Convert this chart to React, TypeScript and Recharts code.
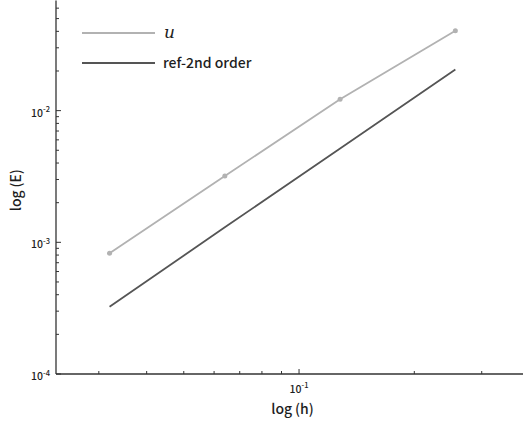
import { LineChart, Line, XAxis, YAxis, Legend } from 'recharts';

// mesh size h and errors
const hValues = [0.032, 0.064, 0.128, 0.256];
const uError = [8.25e-4, 3.19e-3, 1.22e-2, 4.04e-2];
const refSecondOrder = [3.24e-4, 1.3e-3, 5.15e-3, 2.05e-2];

const seriesNames = ['u', 'ref-2nd order'];

const xMajorTicks = [0.1];
const xMinorTicks = [0.03, 0.04, 0.05, 0.06, 0.07, 0.08, 0.09, 0.2, 0.3];
const xTickExponents = ['-1'];

const yMajorTicks = [1e-4, 1e-3, 1e-2];
const yMinorTicks = [
  2e-4, 3e-4, 4e-4, 5e-4, 6e-4, 7e-4, 8e-4, 9e-4,
  2e-3, 3e-3, 4e-3, 5e-3, 6e-3, 7e-3, 8e-3, 9e-3,
  2e-2, 3e-2, 4e-2, 5e-2, 6e-2,
];
const yTickExponents = ['-4', '-3', '-2'];

const X_DOMAIN = [0.02319, 0.3845];
const Y_DOMAIN = [1e-4, 0.0686];

const AXIS = '#333333';
const TEXT = '#1e1e1e';
const FONT = '"Noto Sans CJK SC", "Noto Sans", sans-serif';

const data = hValues.map((h, i) => ({ h, u: uError[i], ref: refSecondOrder[i] }));

const XTick = (props: any) => {
  const { x, y, payload, top } = props;
  const idx = xMajorTicks.indexOf(payload.value);
  const len = idx >= 0 ? 5 : 3;
  if (top) {
    return <line x1={x} y1={y} x2={x} y2={y + len} stroke={AXIS} strokeWidth={1} />;
  }
  return (
    <g>
      <line x1={x} y1={y} x2={x} y2={y - len} stroke={AXIS} strokeWidth={1} />
      {idx >= 0 && (
        <text x={x} y={y + 18.7} textAnchor="middle" fontSize={10.5} fontWeight={500} fill={TEXT} fontFamily={FONT}>
          10<tspan dy={-4.5} fontSize={7.5}>{xTickExponents[idx]}</tspan>
        </text>
      )}
    </g>
  );
};

const YTick = (props: any) => {
  const { x, y, payload } = props;
  const idx = yMajorTicks.indexOf(payload.value);
  const len = idx >= 0 ? 5 : 3;
  return (
    <g>
      <line x1={x} y1={y} x2={x + len} y2={y} stroke={AXIS} strokeWidth={1} />
      {idx >= 0 && (
        <text x={x - 6} y={y + 6} textAnchor="end" fontSize={10.5} fontWeight={500} fill={TEXT} fontFamily={FONT}>
          10<tspan dy={-4.5} fontSize={7.5}>{yTickExponents[idx]}</tspan>
        </text>
      )}
    </g>
  );
};

const renderLegend = (props: any) => {
  const items = [...props.payload].sort(
    (a: any, b: any) => seriesNames.indexOf(a.value) - seriesNames.indexOf(b.value),
  );
  return (
    <svg width={200} height={56}>
      {items.map((entry: any, i: number) => (
        <g key={entry.value}>
          <line x1={0} y1={13 + i * 30} x2={73} y2={13 + i * 30} stroke={entry.color} strokeWidth={1.8} />
          {entry.value === 'u' ? (
            <text x={82} y={13 + i * 30} dy="0.3em" fontSize={17} fontStyle="italic" fontFamily='"DejaVu Serif", serif' fill={TEXT}>
              u
            </text>
          ) : (
            <text x={81} y={13 + i * 30} dy="0.36em" fontSize={14} fontWeight={500} fontFamily={FONT} fill={TEXT}>
              {entry.value}
            </text>
          )}
        </g>
      ))}
    </svg>
  );
};

export default function App() {
  return (
    <div style={{ position: 'absolute', left: 0, top: 0, background: '#fff' }}>
      <LineChart width={523} height={423} data={data} margin={{ top: 0.5, right: 0, bottom: 0, left: 0 }}>
        <XAxis
          xAxisId="x"
          dataKey="h"
          type="number"
          scale="log"
          domain={X_DOMAIN}
          allowDataOverflow
          ticks={[...xMinorTicks, ...xMajorTicks]}
          interval={0}
          height={49}
          tickSize={0}
          tickMargin={0}
          tickLine={false}
          tick={<XTick />}
          axisLine={{ stroke: AXIS, strokeWidth: 1.3 }}
          label={({ viewBox }: any) => (
            <text
              x={viewBox.x + viewBox.width / 2 + 3}
              y={viewBox.y + 34}
              textAnchor="middle"
              dominantBaseline="central"
              fontSize={14}
              fontWeight={500}
              fill={TEXT}
              fontFamily={FONT}
            >
              log{'\u2009'}(h)
            </text>
          )}
        />
        <XAxis
          xAxisId="top"
          dataKey="h"
          orientation="top"
          type="number"
          scale="log"
          domain={X_DOMAIN}
          allowDataOverflow
          ticks={[...xMinorTicks, ...xMajorTicks]}
          interval={0}
          height={0}
          tickSize={0}
          tickMargin={0}
          tickLine={false}
          tick={<XTick top />}
          axisLine={{ stroke: AXIS, strokeWidth: 1 }}
        />
        <YAxis
          type="number"
          scale="log"
          domain={Y_DOMAIN}
          allowDataOverflow
          ticks={[...yMinorTicks, ...yMajorTicks]}
          interval={0}
          width={56}
          tickSize={0}
          tickMargin={0}
          tickLine={false}
          tick={<YTick />}
          axisLine={{ stroke: AXIS, strokeWidth: 1.3 }}
          label={({ viewBox }: any) => (
            <text
              x={viewBox.x + 15}
              y={viewBox.y + viewBox.height / 2 + 3}
              textAnchor="middle"
              dominantBaseline="central"
              transform={`rotate(-90, ${viewBox.x + 15}, ${viewBox.y + viewBox.height / 2 + 3})`}
              fontSize={14}
              fontWeight={500}
              fill={TEXT}
              fontFamily={FONT}
            >
              log{'\u2009'}(E)
            </text>
          )}
        />
        <Legend
          layout="horizontal"
          verticalAlign="middle"
          align="center"
          content={renderLegend}
          wrapperStyle={{ position: 'absolute', left: 82, top: 20, width: 200, height: 56 }}
        />
        <Line
          xAxisId="x"
          dataKey="u"
          name="u"
          stroke="#b2b2b2"
          strokeWidth={1.8}
          dot={{ r: 2.5, fill: '#b2b2b2', stroke: '#b2b2b2', strokeWidth: 0 }}
          isAnimationActive={false}
        />
        <Line
          xAxisId="x"
          dataKey="ref"
          name="ref-2nd order"
          stroke="#555555"
          strokeWidth={1.8}
          dot={false}
          isAnimationActive={false}
        />
      </LineChart>
    </div>
  );
}
